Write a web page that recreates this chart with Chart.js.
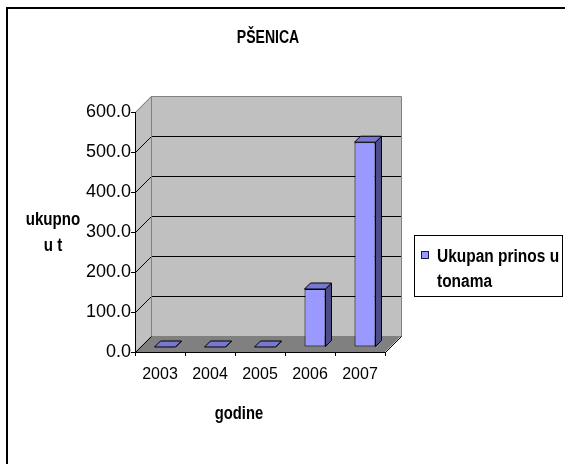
<!DOCTYPE html>
<html lang="hr">
<head>
    <meta charset="UTF-8">
    <title>PŠENICA</title>
    <script src="https://cdn.jsdelivr.net/npm/chart.js@4.4.0/dist/chart.umd.min.js"></script>
    <style>
        html, body { margin: 0; padding: 0; background: #fff; overflow: hidden; }
        #prinosChart { display: block; }
    </style>
</head>
<body>
    <canvas id="prinosChart" width="565" height="464"></canvas>

    <script>
        // podaci
        const godine = ['2003', '2004', '2005', '2006', '2007'];
        const prinos = [0, 0, 0, 145, 512];
        const yMin = 0;
        const yMax = 600;
        const yKorak = 100;

        const naslov = 'PŠENICA';
        const naslovY = ['ukupno', 'u t'];
        const naslovX = 'godine';
        const legendaTekst = ['Ukupan prinos u', 'tonama'];

        const FONT = "'Liberation Sans', Arial, sans-serif";
        const DUBINA = 16;      // dubina zidova
        const POMAK = 5;        // stupci stoje malo iza prednjeg ruba
        const DUBINA_STUPCA = 6;

        // tekst malo suzen po širini
        function pisi(ctx, tekst, x, y, size, bold, align, sx) {
            ctx.save();
            ctx.font = (bold ? 'bold ' : '') + size + 'px ' + FONT;
            ctx.fillStyle = '#000';
            ctx.textBaseline = 'alphabetic';
            ctx.textAlign = align;
            ctx.translate(x, y);
            ctx.scale(sx, 1);
            ctx.fillText(tekst, 0, 0);
            ctx.restore();
        }

        function poligon(ctx, tocke, fill, stroke) {
            ctx.beginPath();
            ctx.moveTo(tocke[0][0], tocke[0][1]);
            for (let i = 1; i < tocke.length; i++) ctx.lineTo(tocke[i][0], tocke[i][1]);
            ctx.closePath();
            if (fill) { ctx.fillStyle = fill; ctx.fill(); }
            if (stroke) { ctx.strokeStyle = stroke; ctx.lineWidth = 1; ctx.stroke(); }
        }

        const zidovi = {
            id: 'zidovi',
            beforeDraw(chart) {
                const ctx = chart.ctx;
                const a = chart.chartArea;
                const y = chart.scales.y;
                const L = a.left, R = a.right, T = a.top, B = a.bottom;
                const D = DUBINA;

                ctx.save();
                ctx.fillStyle = '#fff';
                ctx.fillRect(0, 0, chart.width, chart.height);

                // okvir (desni i donji rub su izvan slike)
                ctx.strokeStyle = '#000';
                ctx.lineWidth = 2;
                ctx.beginPath();
                ctx.moveTo(7, chart.height + 5);
                ctx.lineTo(7, 8);
                ctx.lineTo(chart.width + 5, 8);
                ctx.stroke();

                // stražnji zid
                ctx.fillStyle = '#c0c0c0';
                ctx.fillRect(L + D, T - D, R - L, B - T);
                // bočni zid
                poligon(ctx, [[L, T], [L + D, T - D], [L + D, B - D], [L, B]], '#c0c0c0', null);
                // pod
                poligon(ctx, [[L, B], [R, B], [R + D, B - D], [L + D, B - D]], '#808080', null);

                ctx.translate(0.5, 0.5);
                // mreža
                ctx.lineWidth = 1;
                for (let v = yMin + yKorak; v < yMax; v += yKorak) {
                    const py = Math.round(y.getPixelForValue(v));
                    ctx.strokeStyle = '#000';
                    ctx.beginPath();
                    ctx.moveTo(L, py);
                    ctx.lineTo(L + D, py - D);
                    ctx.lineTo(R + D, py - D);
                    ctx.stroke();
                }
                // rubovi zidova
                ctx.strokeStyle = '#808080';
                ctx.beginPath();
                ctx.moveTo(L, T);
                ctx.lineTo(L + D, T - D);
                ctx.lineTo(R + D, T - D);
                ctx.lineTo(R + D, B - D);
                ctx.moveTo(L + D, T - D);
                ctx.lineTo(L + D, B - D);
                ctx.lineTo(R + D, B - D);
                ctx.stroke();
                ctx.strokeStyle = '#000';
                ctx.beginPath();
                ctx.moveTo(L, B);
                ctx.lineTo(L + D, B - D);
                ctx.moveTo(R, B);
                ctx.lineTo(R + D, B - D);
                ctx.stroke();
                ctx.restore();
            },
            beforeDatasetsDraw(chart) {
                chart.ctx.save();
                chart.ctx.translate(POMAK, -POMAK);
            },
            afterDatasetsDraw(chart) {
                const ctx = chart.ctx;
                ctx.restore();
                const meta = chart.getDatasetMeta(0);
                const d = DUBINA_STUPCA;
                ctx.save();
                ctx.lineJoin = 'miter';
                meta.data.forEach(bar => {
                    const p = bar.getProps(['x', 'y', 'base', 'width'], true);
                    const l = p.x - p.width / 2 + POMAK;
                    const r = p.x + p.width / 2 + POMAK;
                    const t = p.y - POMAK;
                    const b = p.base - POMAK;
                    // bok
                    poligon(ctx, [[r, t], [r + d, t - d], [r + d, b - d], [r, b]], '#4c4c8a', '#000');
                    // vrh
                    poligon(ctx, [[l, t], [r, t], [r + d, t - d], [l + d, t - d]], '#7878d0', '#000');
                });
                ctx.restore();
            },
            afterDraw(chart) {
                const ctx = chart.ctx;
                pisi(ctx, naslov, 268, 43, 19, true, 'center', 0.74);
                pisi(ctx, naslovY[0], 53, 225, 18, true, 'center', 0.84);
                pisi(ctx, naslovY[1], 53, 251, 18, true, 'center', 0.84);
                pisi(ctx, naslovX, 239, 419, 18, true, 'center', 0.82);

                // legenda
                ctx.save();
                ctx.strokeStyle = '#000';
                ctx.lineWidth = 1;
                ctx.strokeRect(414.5, 235.5, 148, 61);
                ctx.fillStyle = chart.data.datasets[0].backgroundColor;
                ctx.fillRect(421, 251, 7, 7);
                ctx.strokeStyle = '#1a1a40';
                ctx.strokeRect(421.5, 251.5, 7, 7);
                ctx.restore();
                pisi(ctx, legendaTekst[0], 437, 262, 18, true, 'left', 0.86);
                pisi(ctx, legendaTekst[1], 437, 287, 18, true, 'left', 0.86);
            }
        };

        Chart.defaults.font.family = FONT;
        Chart.defaults.color = '#000';

        new Chart(document.getElementById('prinosChart'), {
            type: 'bar',
            data: {
                labels: godine,
                datasets: [{
                    label: legendaTekst.join(' '),
                    data: prinos,
                    backgroundColor: '#9999ff',
                    borderColor: '#000',
                    borderWidth: 1,
                    borderSkipped: false,
                    barPercentage: 0.42,
                    categoryPercentage: 1
                }]
            },
            options: {
                responsive: false,
                devicePixelRatio: 1,
                animation: false,
                layout: {
                    padding: { left: 0, right: 180, top: 112, bottom: 0 }
                },
                plugins: {
                    legend: { display: false },
                    title: { display: false },
                    tooltip: { enabled: false }
                },
                scales: {
                    x: {
                        afterFit(scale) { scale.height = 112; },
                        grid: {
                            drawOnChartArea: false,
                            drawTicks: true,
                            tickLength: 4,
                            color: '#000'
                        },
                        border: { color: '#000', width: 1 },
                        ticks: {
                            padding: 9,
                            font: { size: 16 },
                            maxRotation: 0
                        }
                    },
                    y: {
                        min: yMin,
                        max: yMax,
                        afterFit(scale) { scale.width = 135; },
                        grid: {
                            drawOnChartArea: false,
                            drawTicks: true,
                            tickLength: 4,
                            color: '#000'
                        },
                        border: { color: '#000', width: 1 },
                        ticks: {
                            stepSize: yKorak,
                            padding: 0,
                            font: { size: 18 },
                            callback: v => v.toFixed(1)
                        }
                    }
                }
            },
            plugins: [zidovi]
        });
    </script>
</body>
</html>
